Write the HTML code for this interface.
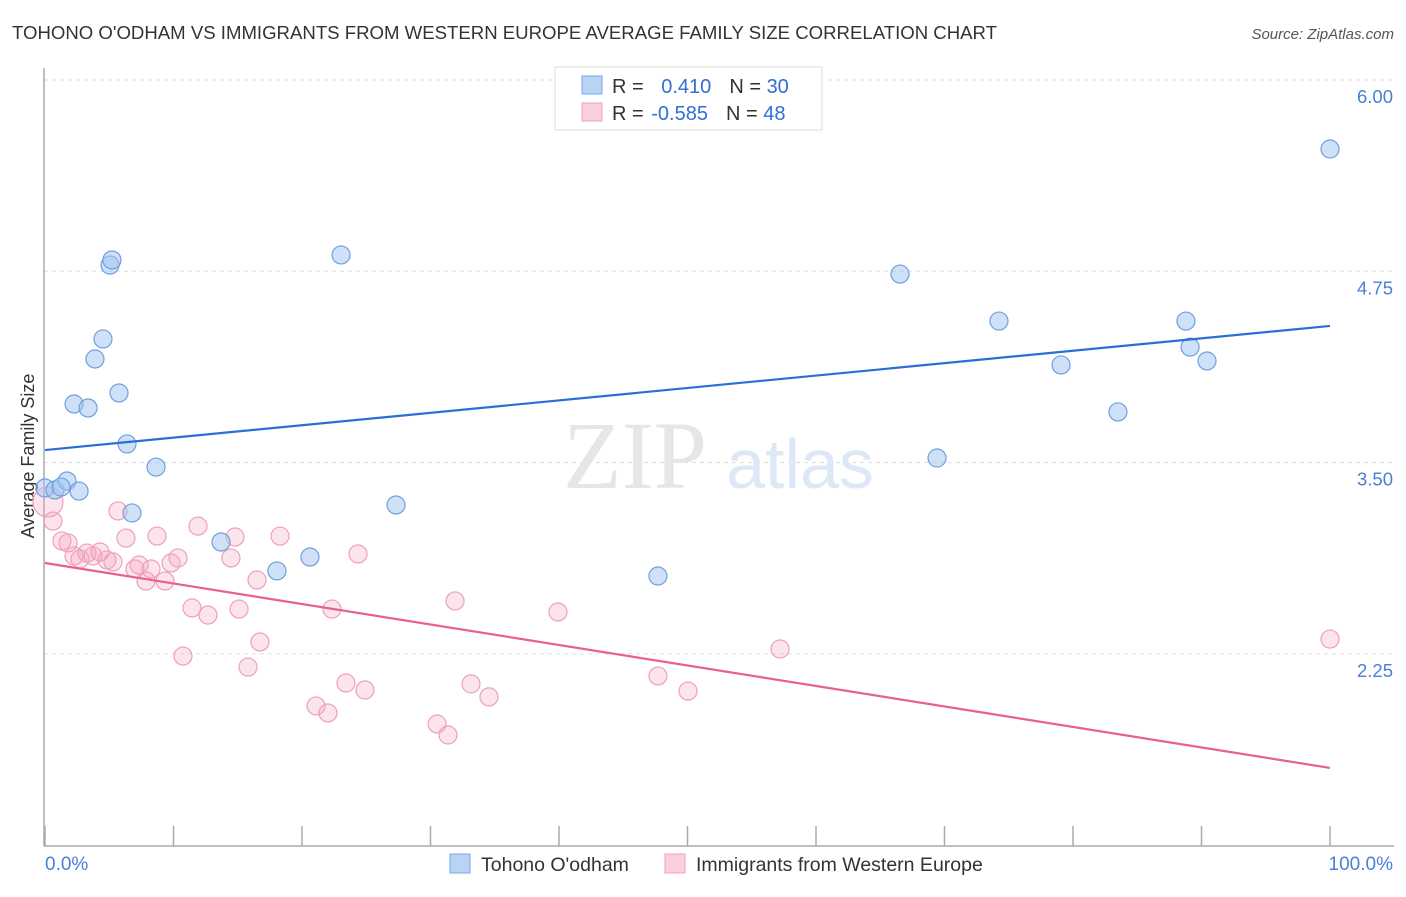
<!DOCTYPE html>
<html><head><meta charset="utf-8"><style>
body{margin:0;background:#fff;font-family:"Liberation Sans",sans-serif;}
</style></head><body>
<svg width="1406" height="892" xmlns="http://www.w3.org/2000/svg">
<text x="12" y="39" font-size="18.6" fill="#333">TOHONO O'ODHAM VS IMMIGRANTS FROM WESTERN EUROPE AVERAGE FAMILY SIZE CORRELATION CHART</text>
<text x="1394" y="39" font-size="15" fill="#555" font-style="italic" text-anchor="end">Source: ZipAtlas.com</text>
<g id="grid"></g>
<text x="635" y="488" font-size="96" fill="#e6e6e6" font-family="Liberation Serif" text-anchor="middle">ZIP</text>
<text x="800" y="488" font-size="70" fill="#dde8f6" text-anchor="middle">atlas</text>
<line x1="44" y1="68" x2="44" y2="846" stroke="#aaa" stroke-width="1.5"/>
<line x1="44" y1="846" x2="1394" y2="846" stroke="#aaa" stroke-width="1.5"/>
<g id="ticks"></g>
<text transform="translate(34,456) rotate(-90)" font-size="18" fill="#333" text-anchor="middle">Average Family Size</text>
<text x="45" y="870" font-size="19" fill="#4a7fd6">0.0%</text>
<text x="1393" y="870" font-size="19" fill="#4a7fd6" text-anchor="end">100.0%</text>
<g id="pts"></g>
<g id="trend"></g>
<g>
<rect x="555" y="67" width="267" height="63" fill="#fff" stroke="#ddd"/>
<rect x="582" y="76" width="20" height="18" fill="#b9d3f5" stroke="#7aa7e6"/>
<rect x="582" y="103" width="20" height="18" fill="#fbcfdc" stroke="#f0a3bb"/>
<text x="612" y="93" font-size="20" fill="#333">R = <tspan fill="#2f6fd6" dx="12">0.410</tspan><tspan dx="18" fill="#333">N = </tspan><tspan fill="#2f6fd6">30</tspan></text>
<text x="612" y="120" font-size="20" fill="#333">R = <tspan fill="#2f6fd6" dx="2">-0.585</tspan><tspan dx="18" fill="#333">N = </tspan><tspan fill="#2f6fd6">48</tspan></text>
</g>
<g>
<rect x="450" y="854" width="20" height="19" fill="#b9d3f5" stroke="#7aa7e6"/>
<text x="481" y="871" font-size="19.5" fill="#333">Tohono O'odham</text>
<rect x="665" y="854" width="20" height="19" fill="#fbcfdc" stroke="#f0a3bb"/>
<text x="696" y="871" font-size="19.5" fill="#333">Immigrants from Western Europe</text>
</g>
</svg>
<script>
const yTicks=[6.00,4.75,3.50,2.25];
const yTickLabels=["6.00","4.75","3.50","2.25"];
const xTicks=[0,10,20,30,40,50,60,70,80,90,100];
const blueX=[0,0.78,1.71,1.25,2.65,2.26,3.35,3.89,4.51,5.06,5.21,5.76,6.38,6.77,8.64,13.7,18.05,20.62,23.04,27.32,47.7,66.54,69.42,74.24,79.07,83.5,88.79,89.11,90.43,100];
const blueY=[3.334,3.321,3.38,3.34,3.314,3.883,3.857,4.177,4.308,4.791,4.824,3.955,3.622,3.171,3.471,2.981,2.792,2.883,4.857,3.223,2.759,4.732,3.53,4.425,4.138,3.831,4.425,4.255,4.164,5.549];
const pinkX=[0.23,0.62,1.32,1.79,2.26,2.72,3.27,3.74,4.28,4.82,5.29,5.68,6.3,7,7.32,7.86,8.25,8.72,9.34,9.81,10.35,10.74,11.44,11.91,12.68,14.47,14.79,15.1,15.8,16.5,16.73,18.29,21.09,22.02,22.33,23.42,24.36,24.9,30.51,31.36,31.91,33.15,34.55,39.92,47.7,50.04,57.2,100];
const pinkY=[3.243,3.118,2.988,2.975,2.89,2.87,2.909,2.89,2.916,2.864,2.851,3.184,3.007,2.805,2.831,2.726,2.805,3.02,2.726,2.844,2.877,2.236,2.55,3.085,2.504,2.877,3.014,2.543,2.164,2.733,2.328,3.02,1.91,1.864,2.543,2.06,2.903,2.014,1.792,1.72,2.596,2.054,1.969,2.524,2.106,2.007,2.282,2.347];
const blueTrend=[3.582,4.393];
const pinkTrend=[2.844,1.505];
const NS="http://www.w3.org/2000/svg";
const X=v=>45+v*12.85;
const Y=v=>80+(6-v)/1.25*191.3;
function mk(t,a,p){const e=document.createElementNS(NS,t);for(const k in a)e.setAttribute(k,a[k]);p.appendChild(e);return e;}
const grid=document.getElementById('grid');
yTicks.forEach((v,i)=>{
 const l=mk('line',{x1:44,x2:1394,y1:Y(v),y2:Y(v),stroke:'#ddd','stroke-dasharray':'4,4'},grid);
 
 
 const t=mk('text',{x:1393,y:Y(v)+23,'font-size':18.5,fill:'#4a7fd6','text-anchor':'end'},grid);
 t.textContent=yTickLabels[i];
 
 
});
const tk=document.getElementById('ticks');
xTicks.forEach(v=>{
 const l=mk('line',{x1:X(v),x2:X(v),y1:826,y2:846,stroke:'#aaa','stroke-width':1.5},tk);
 
 
});
const pts=document.getElementById('pts');
pinkX.forEach((v,i)=>{
 const c=mk('circle',{cx:X(v),cy:Y(pinkY[i]),r:i==0?15:9,fill:'rgba(245,165,192,0.3)',stroke:'#eea0b8','stroke-width':1.2},pts);
 
 
});
blueX.forEach((v,i)=>{
 const c=mk('circle',{cx:X(v),cy:Y(blueY[i]),r:9,fill:'rgba(160,196,240,0.5)',stroke:'#6f9fe0','stroke-width':1.2},pts);
 
 
});
const tr=document.getElementById('trend');
const b=mk('line',{x1:X(0),x2:X(100),y1:Y(blueTrend[0]),y2:Y(blueTrend[1]),stroke:'#2a6fd6','stroke-width':2.2},tr);


const p=mk('line',{x1:X(0),x2:X(100),y1:Y(pinkTrend[0]),y2:Y(pinkTrend[1]),stroke:'#e8608c','stroke-width':2.2},tr);


</script>
</body></html>
